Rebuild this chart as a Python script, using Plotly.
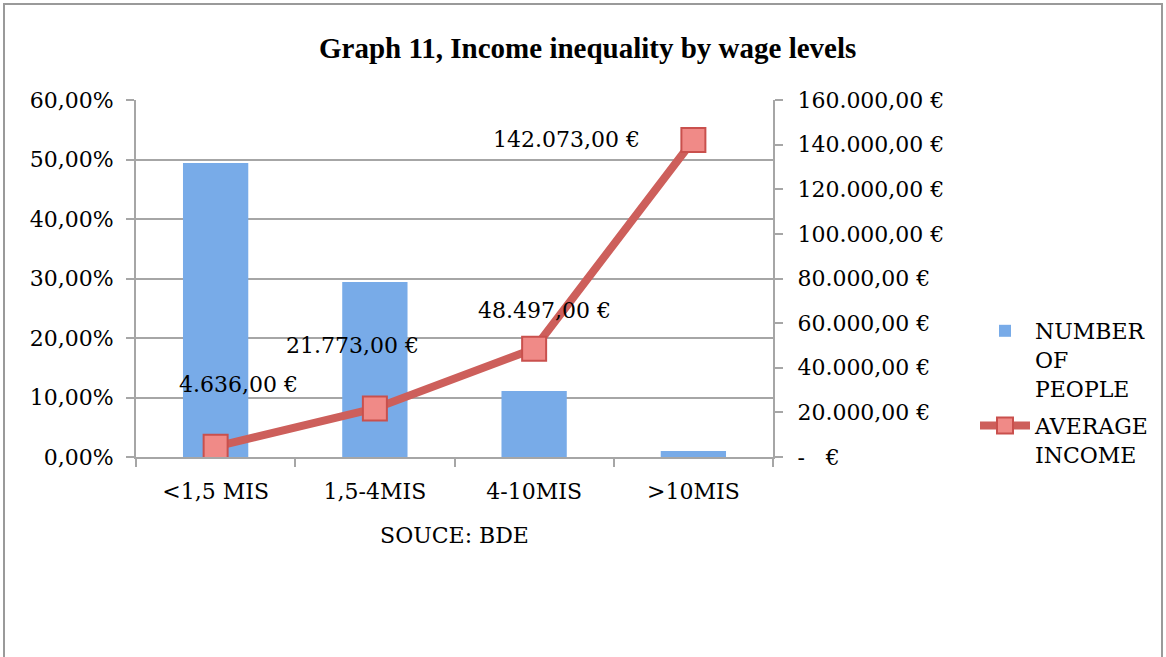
import plotly.graph_objects as go

categories = ["<1,5 MIS", "1,5-4MIS", "4-10MIS", ">10MIS"]
people_share = [0.494, 0.294, 0.111, 0.010]
avg_income = [4636, 21773, 48497, 142073]
left_ticks = [0, 0.1, 0.2, 0.3, 0.4, 0.5, 0.6]
right_ticks = [0, 20000, 40000, 60000, 80000, 100000, 120000, 140000, 160000]
label_shifts = [(23, 62), (-22, 63), (10, 38), (-127, 1)]


def eur(v):
    if v == 0:
        return "-   €"
    s = f"{v:,.2f}"  # 1,234.56
    s = s.replace(",", "X").replace(".", ",").replace("X", ".")
    return s + " €"


def pct(v):
    return f"{v*100:.2f}".replace(".", ",") + "%"


FONT = "DejaVu Serif"
GRID = "#a6a6a6"

fig = go.Figure()
fig.add_trace(go.Bar(
    x=categories, y=people_share, name="NUMBER<br>OF<br>PEOPLE",
    marker=dict(color="#78abe8", line=dict(width=0)),
    width=0.41, yaxis="y", legendgroup="people",
))
fig.add_trace(go.Scatter(
    x=categories, y=avg_income, name="AVERAGE<br>INCOME",
    mode="lines+markers", yaxis="y2", legendgroup="income",
    line=dict(color="#cd5f5b", width=8),
    marker=dict(symbol="square", size=24, color="#f08a87",
                line=dict(color="#c9504d", width=2)),
))

for c, v, (dx, dy) in zip(categories, avg_income, label_shifts):
    fig.add_annotation(x=c, y=v, xref="x", yref="y2", text=eur(v),
                       showarrow=False, xshift=dx, yshift=dy,
                       font=dict(family=FONT, size=22, color="black"))

fig.add_annotation(text="<b>Graph 11, Income inequality by wage levels</b>",
                   xref="paper", yref="paper", x=(587 - 136) / 637, y=1 + 52 / 357,
                   showarrow=False, xanchor="center", yanchor="middle",
                   font=dict(family="Liberation Serif", size=29, color="black"))

# outer frame
fig.add_shape(type="rect", xref="paper", yref="paper",
              x0=(4 - 136) / 637, x1=(1162 - 136) / 637,
              y0=(457 - 700) / 357, y1=(457 - 4) / 357,
              line=dict(color="#9a9a9a", width=2), fillcolor="rgba(0,0,0,0)", layer="below")

fig.update_layout(
    width=1166, height=657,
    margin=dict(l=136, r=393, t=100, b=200),
    paper_bgcolor="white", plot_bgcolor="white",
    font=dict(family=FONT, size=22, color="black"),
    bargap=0.59,
    xaxis=dict(
        type="category", tickson="boundaries", ticks="outside", ticklen=8,
        tickcolor=GRID, tickwidth=2, showline=True, linecolor=GRID, linewidth=2,
        showgrid=False, tickfont=dict(family=FONT, size=22), ticklabelstandoff=14,
        title=dict(text="SOUCE: BDE", font=dict(family=FONT, size=22), standoff=24),
    ),
    yaxis=dict(
        range=[0, 0.6], tickvals=left_ticks, ticktext=[pct(t) for t in left_ticks],
        showgrid=True, gridcolor=GRID, gridwidth=2, zeroline=False,
        showline=True, linecolor=GRID, linewidth=2,
        ticks="outside", ticklen=8, tickcolor=GRID, tickwidth=2,
        ticklabelstandoff=8, tickfont=dict(family=FONT, size=22),
    ),
    yaxis2=dict(
        range=[0, 160000], overlaying="y", side="right",
        tickvals=right_ticks, ticktext=[eur(t) for t in right_ticks],
        showgrid=False, zeroline=False,
        showline=True, linecolor=GRID, linewidth=2,
        ticks="outside", ticklen=8, tickcolor=GRID, tickwidth=2,
        ticklabelstandoff=10, tickfont=dict(family=FONT, size=22),
    ),
    legend=dict(x=(975 - 136) / 637, y=1 - (310 - 100) / 357, xanchor="left", yanchor="top",
                font=dict(family=FONT, size=22), valign="top", tracegroupgap=6,
                itemwidth=50, bgcolor="rgba(0,0,0,0)"),
    showlegend=True,
)

fig.write_html("out.html", config={"displayModeBar": False},
               post_script="document.body.style.margin='0px';")
